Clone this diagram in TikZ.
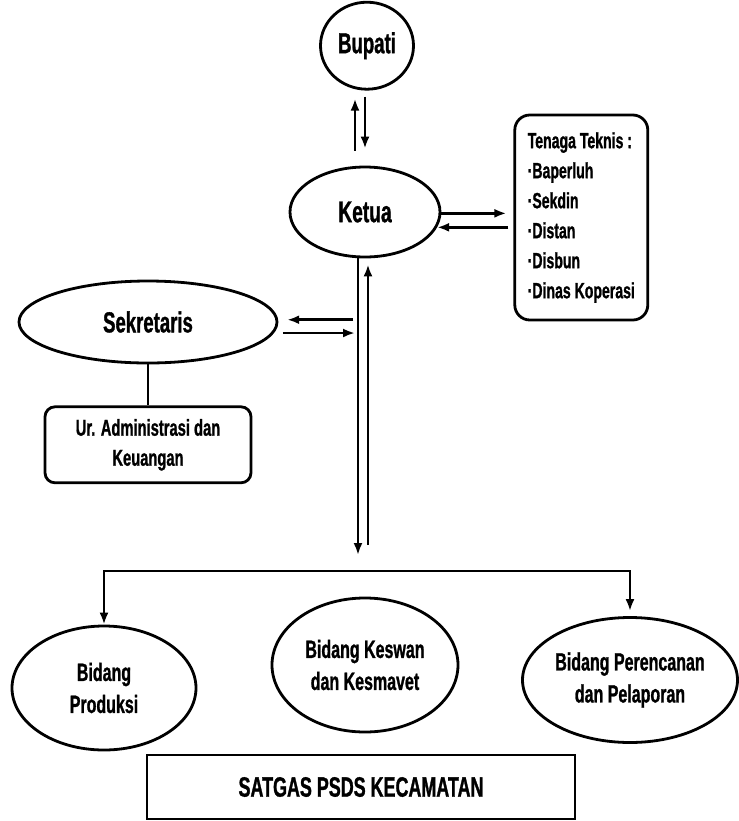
\documentclass[tikz,border=0pt]{standalone}
\usepackage{fontspec}
\setmainfont{Liberation Sans}[FakeStretch=0.64,FakeBold=1]
\usetikzlibrary{shapes.geometric,positioning,arrows.meta}

\begin{document}
\begin{tikzpicture}
[x=0.5pt,y=-0.5pt,node distance=20pt,
oval/.style={draw, ellipse, line width=1.4pt, inner sep=0pt, align=center,
  font=\bfseries\fontsize{12.5}{16}\selectfont},
box/.style={draw, line width=1.4pt, inner sep=0pt, align=center},
arr/.style={line width=1.3pt, -{Latex[length=6pt,width=4.5pt]}},
link/.style={line width=1.3pt}]
\useasboundingbox (0,0) rectangle (739,821);

\node[oval, minimum width=75pt, minimum height=45pt,
  font=\bfseries\fontsize{15}{17}\selectfont] (ketua) at (365,212) {Ketua};
\node[oval, minimum width=46.5pt, minimum height=43.5pt,
  font=\bfseries\fontsize{14.5}{17}\selectfont,
  above=37.5pt of ketua, xshift=1pt] (bupati) {Bupati};
\node[box, rounded corners=7.5pt, minimum width=66.5pt, minimum height=102.5pt,
  align=left, font=\bfseries\fontsize{11}{15}\selectfont,
  right=36pt of ketua, yshift=-2.75pt] (tenaga)
  {Tenaga Teknis :\\·Baperluh\\·Sekdin\\·Distan\\·Disbun\\·Dinas Koperasi};

\node[oval, minimum width=129pt, minimum height=41pt,
  font=\bfseries\fontsize{14.5}{17}\selectfont] (sekretaris) at (148,322) {Sekretaris};
\node[box, rounded corners=5pt, minimum width=103pt, minimum height=38pt,
  font=\bfseries\fontsize{11.5}{15}\selectfont,
  below=20.5pt of sekretaris] (admin) {Ur. Administrasi dan\\Keuangan};

\node[oval, minimum width=92pt, minimum height=62pt] (produksi) at (104,688) {Bidang\\Produksi};
\node[oval, minimum width=93pt, minimum height=67pt] (keswan) at (365,665) {Bidang Keswan\\dan Kesmavet};
\node[oval, minimum width=107.5pt, minimum height=62.5pt] (perencanaan) at (630,680)
  {Bidang Perencanan\\dan Pelaporan};

\node[box, minimum width=214pt, minimum height=32pt,
  font=\bfseries\fontsize{14}{16}\selectfont] (satgas) at (361,787) {SATGAS PSDS KECAMATAN};

% Bupati - Ketua
\coordinate (kU) at ([xshift=-5pt]ketua.north);
\coordinate (kD) at (ketua.north);
\draw[arr, shorten <=7.5pt, shorten >=4pt] (kU) -- (kU |- bupati.south);
\draw[arr, shorten <=3pt, shorten >=8.5pt] (kD |- bupati.south) -- (kD);

% Ketua - Tenaga Teknis
\draw[arr, shorten >=3.5pt] (ketua.359) -- (ketua.359 -| tenaga.west);
\draw[arr, shorten <=2.5pt] (ketua.348 -| tenaga.west) -- (ketua.348);

% Ketua - Bidang
\coordinate (kL) at ([xshift=-3.5pt]ketua.south);
\coordinate (kR) at ([xshift=1.5pt]ketua.south);
\coordinate (bar) at (362,571);
\draw[arr, shorten >=8pt] (kL) -- (kL |- bar);
\draw[arr, shorten <=13pt, shorten >=3pt] (kR |- bar) -- (kR);
\draw[arr] (bar) -| (produksi.north);
\draw[arr, shorten >=2.5pt] (bar) -| (perencanaan.north);

% Sekretaris
\draw[arr, shorten <=2.5pt, shorten >=4.5pt] (sekretaris.1 -| kL) -- (sekretaris.1);
\draw[arr, shorten <=4.5pt, shorten >=1.5pt] (sekretaris.355) -- (sekretaris.355 -| kL);
\draw[link] (sekretaris.south) -- (admin.north);
\end{tikzpicture}
\end{document}
